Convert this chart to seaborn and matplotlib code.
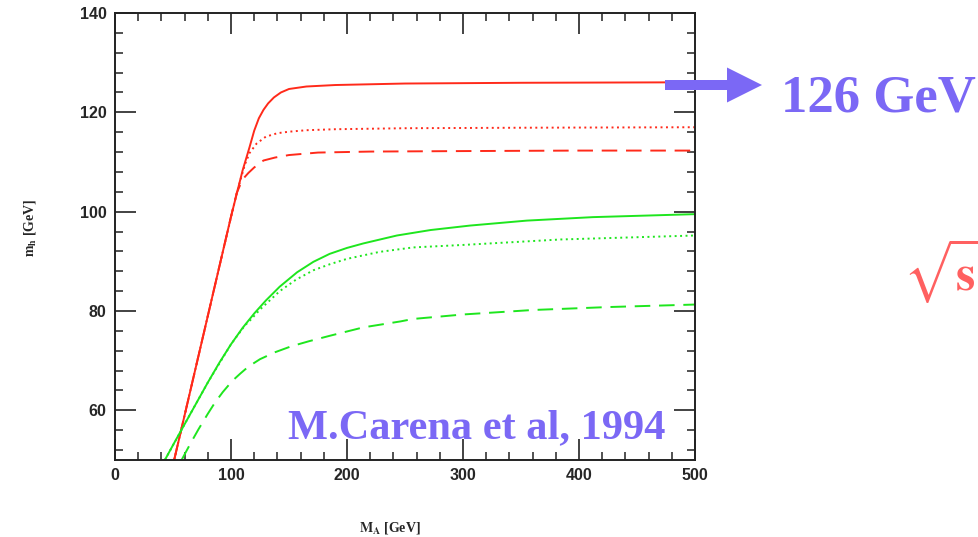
import numpy as np
import pandas as pd
import matplotlib
matplotlib.use("Agg")
import matplotlib.pyplot as plt
from matplotlib.ticker import MultipleLocator
import seaborn as sns

# ---- data ----
red_solid_MA = [51, 60, 70, 80, 90, 100, 110, 116, 120, 124, 128, 132, 137, 143, 150, 165, 190, 250, 350, 500]
red_solid_mh = [50, 59, 69, 79, 89, 99, 108.3, 113.0, 116.3, 118.8, 120.5, 121.8, 123.0, 124.0, 124.7, 125.2, 125.5, 125.8, 125.95, 126.05]

red_dot_MA = [51, 70, 90, 105, 112, 116, 122, 130, 140, 150, 165, 190, 250, 350, 500]
red_dot_mh = [50, 69, 89, 103.8, 109.5, 111.8, 113.7, 115.1, 115.8, 116.1, 116.4, 116.6, 116.8, 116.9, 117.0]

red_dash_MA = [51, 70, 90, 100, 105, 110, 115, 120, 128, 138, 150, 175, 220, 300, 400, 500]
red_dash_mh = [50, 69, 89, 99, 103.8, 106.5, 107.8, 108.9, 110.3, 110.9, 111.4, 111.9, 112.1, 112.2, 112.3, 112.3]

green_solid_MA = [43, 50, 60, 70, 80, 90, 100, 110, 120, 130, 142, 157, 171, 185, 200, 214, 243, 272, 306, 355, 412, 500]
green_solid_mh = [50, 53, 57.2, 61.4, 65.6, 69.6, 73.3, 76.6, 79.5, 82.1, 84.9, 87.8, 89.9, 91.5, 92.7, 93.6, 95.2, 96.3, 97.2, 98.2, 98.9, 99.5]

green_dot_MA = [43, 60, 80, 100, 112, 116, 125, 142, 156, 171, 185, 200, 228, 257, 300, 384, 500]
green_dot_mh = [50, 57.2, 65.6, 73.3, 77.1, 78.0, 80.3, 84.0, 86.3, 88.2, 89.4, 90.5, 91.9, 92.8, 93.3, 94.4, 95.2]

green_dash_MA = [57.4, 65, 72, 80, 86, 93, 101, 108, 115, 125, 138, 152, 167, 185, 214, 246, 257, 300, 360, 426, 500]
green_dash_mh = [50, 53.3, 56.2, 59.3, 61.5, 63.7, 65.9, 67.4, 68.8, 70.3, 71.7, 72.9, 73.9, 75.0, 76.7, 77.9, 78.4, 79.3, 80.2, 80.8, 81.3]

x_ticks = [0, 100, 200, 300, 400, 500]
y_ticks = [60, 80, 100, 120, 140]

frames = []
for MA, mh, sc, ap in [
    (red_solid_MA, red_solid_mh, "red", "solid"),
    (red_dot_MA, red_dot_mh, "red", "dotted"),
    (red_dash_MA, red_dash_mh, "red", "dashed"),
    (green_solid_MA, green_solid_mh, "green", "solid"),
    (green_dot_MA, green_dot_mh, "green", "dotted"),
    (green_dash_MA, green_dash_mh, "green", "dashed"),
]:
    frames.append(pd.DataFrame({"M_A": MA, "m_h": mh, "scenario": sc, "approx": ap}))
df = pd.concat(frames, ignore_index=True)

sns.set_theme(style="white")
plt.rcParams["font.family"] = ["Liberation Sans", "DejaVu Sans"]
plt.rcParams["mathtext.fontset"] = "stix"

fig = plt.figure(figsize=(9.79, 5.37), dpi=100)
ax = fig.add_axes([115 / 979, 1 - 460 / 537, 580 / 979, 447 / 537])

sns.lineplot(
    data=df, x="M_A", y="m_h", hue="scenario", style="approx",
    palette={"red": "#ff2a1a", "green": "#1ee61e"},
    dashes={"solid": "", "dotted": (1, 1.8), "dashed": (8, 4.5)},
    estimator=None, sort=False, legend=False, linewidth=1.4, ax=ax,
)

ax.set_xlim(0, 500)
ax.set_ylim(50, 140)
ax.set_xticks(x_ticks)
ax.set_yticks(y_ticks)
ax.xaxis.set_minor_locator(MultipleLocator(20))
ax.yaxis.set_minor_locator(MultipleLocator(4))
ax.tick_params(which="major", direction="in", bottom=True, left=True, top=True,
               right=True, length=15, width=1.2, color="#222222", pad=6,
               labelsize=11.5)
ax.tick_params(which="minor", direction="in", bottom=True, left=True, top=True,
               right=True, length=6, width=1.1, color="#222222")
for lab in ax.get_xticklabels() + ax.get_yticklabels():
    lab.set_fontweight("bold")
for s in ax.spines.values():
    s.set_linewidth(1.4)
    s.set_color("#222222")

ax.set_xlabel(r"$\mathbf{M_A}$ [GeV]", fontsize=10, fontweight="bold",
              family="Liberation Serif")
ax.set_ylabel(r"$\mathbf{m_h}$ [GeV]", fontsize=10, fontweight="bold",
              family="Liberation Serif")
ax.xaxis.set_label_coords((390 - 115) / 580, -(520 - 460) / 447)
ax.yaxis.set_label_coords(-(115 - 38) / 580, (460 - 228) / 447)

purple = "#7b68f5"
ax.text((665 - 115) / 580, (460 - 438) / 447, "M.Carena et al, 1994",
        transform=ax.transAxes, ha="right", va="baseline", fontsize=30.5,
        fontweight="bold", family="Liberation Serif", color=purple)

# arrow and 126 GeV
fig.patches.append(matplotlib.patches.FancyArrow(
    665 / 979, 1 - 85 / 537, 62 / 979, 0, width=10 / 537,
    head_width=35 / 537, head_length=35 / 979, length_includes_head=False,
    transform=fig.transFigure, color=purple, linewidth=0))
fig.text(781 / 979, 1 - 112 / 537, "126 GeV", ha="left", va="baseline",
         fontsize=38, fontweight="bold", family="Liberation Serif", color=purple)

fig.text(903 / 979, 1 - 290 / 537, r"$\sqrt{\mathbf{s}}$", ha="left", va="baseline",
         fontsize=36, color="#ff6060")

fig.savefig("out.png", dpi=100)
